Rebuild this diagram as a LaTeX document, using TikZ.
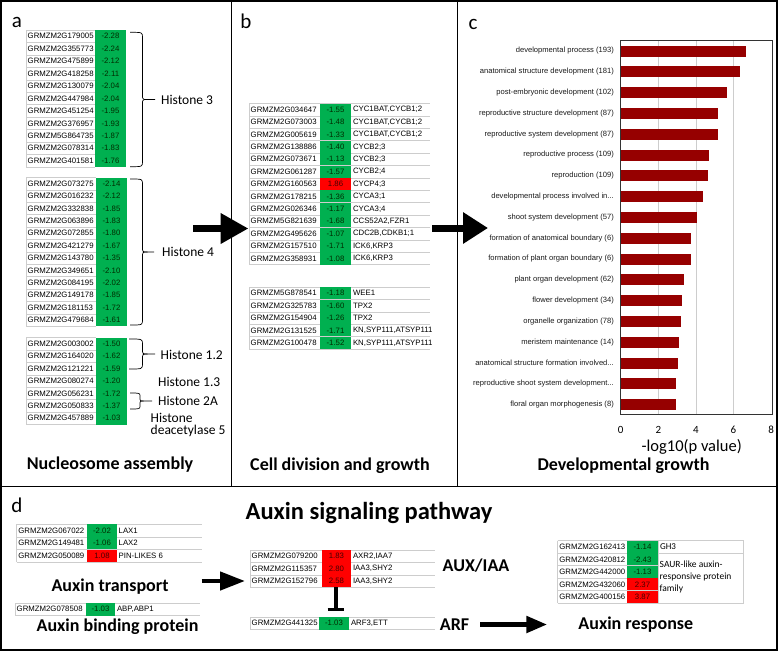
\documentclass[tikz,border=0pt]{standalone}
\usepackage{fontspec}
\setmainfont{Liberation Sans}
\newfontfamily\calfont{Carlito}
\usetikzlibrary{arrows.meta}
\definecolor{xgreen}{RGB}{0,176,80}
\definecolor{xred}{RGB}{255,0,0}
\definecolor{tgreen}{RGB}{0,45,0}
\definecolor{tred}{RGB}{70,0,0}
\definecolor{barred}{RGB}{150,0,0}
\definecolor{cellline}{RGB}{205,205,205}
\newcommand\elip{...}
\tikzset{
  small/.style={font=\fontsize{7.6}{9}\selectfont, inner sep=0pt},
  tbl/.style={font=\fontsize{7.8}{9}\selectfont, inner sep=0pt},
  gene/.style={tbl, anchor=west},
  val/.style={tbl, anchor=center},
  gridl/.style={draw=cellline, line width=0.6pt},
  ttl/.style={font=\calfont\bfseries\fontsize{18}{20}\selectfont, inner sep=0pt},
  hist/.style={font=\calfont\fontsize{13.5}{14}\selectfont, anchor=west, inner sep=0pt, text height=9pt, text depth=2.5pt},
  plab/.style={font=\calfont\fontsize{21}{24}\selectfont, inner sep=0pt},
  tick/.style={font=\calfont\fontsize{11}{12}\selectfont, inner sep=0pt},
}
% row of a table: #1 index, #2 gene, #3 value, #4 description, #5 fill, #6 text colour, #7 name prefix
\newcommand\rowcells[7]{%
  \pgfmathsetmacro\yy{\ytop+#1*\rh}%
  \pgfmathsetmacro\yc{\yy+0.5*\rh}%
  \pgfmathsetmacro\yb{\yy+\rh}%
  \draw[gridl] (\xa,\yy) -- (\xd,\yy) (\xa,\yb) -- (\xd,\yb) (\xa,\yy) -- (\xa,\yb);
  \fill[#5] (\xb,\yy) rectangle (\xc,\yb);
  \node[gene] (#7g#1) at (\xa+1.5,\yc) {#2};
  \node[val,text=#6] (#7v#1) at ({(\xb+\xc)/2},\yc) {#3};
  \node[gene] (#7d#1) at (\xc+1.8,\yc) {#4};
}
% brace: #1 hook x, #2 vertical x, #3 top, #4 bottom, #5 dash end x, #6 radius
\newcommand\hbrace[6]{%
  \pgfmathsetmacro\bmid{(#3+#4)/2}%
  \draw[line width=0.7pt] (#1,#3) .. controls (#2,#3) .. (#2,#3+#6) -- (#2,\bmid-#6) .. controls (#2,\bmid) .. (#2+#6,\bmid) -- (#5,\bmid);
  \draw[line width=0.7pt] (#2+#6,\bmid) .. controls (#2,\bmid) .. (#2,\bmid+#6) -- (#2,#4-#6) .. controls (#2,#4) .. (#1,#4);
}
\begin{document}
\begin{tikzpicture}[x=1pt,y=-1pt]
\useasboundingbox (0,0) rectangle (778,651);
% frame
\draw[line width=1.4pt] (1,1) rectangle (777,650);
\draw[line width=1pt] (1,486) -- (777,486);
\draw[line width=1pt] (231,1) -- (231,486);
\draw[line width=1pt] (457,1) -- (457,486);
% panel letters
\node[plab] (la) at (17,22) {a};
\node[plab] (lb) at (246,21) {b};
\node[plab] (lc) at (473,24) {c};
\node[plab] (ld) at (17,505) {d};

% ---------- panel a ----------
\def\xa{26}\def\xb{95}\def\xc{126}\def\xd{95}
\def\ytop{30}\def\rh{12.45}
\rowcells{0}{GRMZM2G179005}{-2.28}{}{xgreen}{tgreen}{h3}
\rowcells{1}{GRMZM2G355773}{-2.24}{}{xgreen}{tgreen}{h3}
\rowcells{2}{GRMZM2G475899}{-2.12}{}{xgreen}{tgreen}{h3}
\rowcells{3}{GRMZM2G418258}{-2.11}{}{xgreen}{tgreen}{h3}
\rowcells{4}{GRMZM2G130079}{-2.04}{}{xgreen}{tgreen}{h3}
\rowcells{5}{GRMZM2G447984}{-2.04}{}{xgreen}{tgreen}{h3}
\rowcells{6}{GRMZM2G451254}{-1.95}{}{xgreen}{tgreen}{h3}
\rowcells{7}{GRMZM2G376957}{-1.93}{}{xgreen}{tgreen}{h3}
\rowcells{8}{GRMZM5G864735}{-1.87}{}{xgreen}{tgreen}{h3}
\rowcells{9}{GRMZM2G078314}{-1.83}{}{xgreen}{tgreen}{h3}
\rowcells{10}{GRMZM2G401581}{-1.76}{}{xgreen}{tgreen}{h3}
\def\ytop{177.5}\def\rh{12.4}\def\xb{96}\def\xc{127}\def\xd{96}
\rowcells{0}{GRMZM2G073275}{-2.14}{}{xgreen}{tgreen}{h4}
\rowcells{1}{GRMZM2G016232}{-2.12}{}{xgreen}{tgreen}{h4}
\rowcells{2}{GRMZM2G332838}{-1.85}{}{xgreen}{tgreen}{h4}
\rowcells{3}{GRMZM2G063896}{-1.83}{}{xgreen}{tgreen}{h4}
\rowcells{4}{GRMZM2G072855}{-1.80}{}{xgreen}{tgreen}{h4}
\rowcells{5}{GRMZM2G421279}{-1.67}{}{xgreen}{tgreen}{h4}
\rowcells{6}{GRMZM2G143780}{-1.35}{}{xgreen}{tgreen}{h4}
\rowcells{7}{GRMZM2G349651}{-2.10}{}{xgreen}{tgreen}{h4}
\rowcells{8}{GRMZM2G084195}{-2.02}{}{xgreen}{tgreen}{h4}
\rowcells{9}{GRMZM2G149178}{-1.85}{}{xgreen}{tgreen}{h4}
\rowcells{10}{GRMZM2G181153}{-1.72}{}{xgreen}{tgreen}{h4}
\rowcells{11}{GRMZM2G479684}{-1.61}{}{xgreen}{tgreen}{h4}
\def\ytop{337.7}
\rowcells{0}{GRMZM2G003002}{-1.50}{}{xgreen}{tgreen}{h1}
\rowcells{1}{GRMZM2G164020}{-1.62}{}{xgreen}{tgreen}{h1}
\rowcells{2}{GRMZM2G121221}{-1.59}{}{xgreen}{tgreen}{h1}
\rowcells{3}{GRMZM2G080274}{-1.20}{}{xgreen}{tgreen}{h1}
\rowcells{4}{GRMZM2G056231}{-1.72}{}{xgreen}{tgreen}{h1}
\rowcells{5}{GRMZM2G050833}{-1.37}{}{xgreen}{tgreen}{h1}
\rowcells{6}{GRMZM2G457889}{-1.03}{}{xgreen}{tgreen}{h1}
% braces
\hbrace{130}{142.5}{32.3}{166.7}{155}{5}
\hbrace{130}{142.5}{179}{325}{154}{5}
\hbrace{129}{142.5}{339}{369}{155}{5}
\hbrace{130}{140}{393}{409}{152}{3.5}
\node[hist] (th3) at (161,101) {Histone 3};
\node[hist] (th4) at (162,253) {Histone 4};
\node[hist] (th12) at (160.5,356) {Histone 1.2};
\node[hist] (th13) at (158,383.5) {Histone 1.3};
\node[hist] (th2a) at (158,402.5) {Histone 2A};
\node[hist] (thd1) at (150.5,418.8) {Histone};
\node[hist] (thd2) at (150.5,431) {deacetylase 5};
\node[ttl] (ta) at (110,465) {Nucleosome assembly};

% ---------- panel b ----------
\def\xa{249}\def\xb{320}\def\xc{351}\def\xd{430}
\def\ytop{103.5}\def\rh{12.4}
\rowcells{0}{GRMZM2G034647}{-1.55}{CYC1BAT,CYCB1;2}{xgreen}{tgreen}{b1}
\rowcells{1}{GRMZM2G073003}{-1.48}{CYC1BAT,CYCB1;2}{xgreen}{tgreen}{b1}
\rowcells{2}{GRMZM2G005619}{-1.33}{CYC1BAT,CYCB1;2}{xgreen}{tgreen}{b1}
\rowcells{3}{GRMZM2G138886}{-1.40}{CYCB2;3}{xgreen}{tgreen}{b1}
\rowcells{4}{GRMZM2G073671}{-1.13}{CYCB2;3}{xgreen}{tgreen}{b1}
\rowcells{5}{GRMZM2G061287}{-1.57}{CYCB2;4}{xgreen}{tgreen}{b1}
\rowcells{6}{GRMZM2G160563}{1.86}{CYCP4;3}{xred}{tred}{b1}
\rowcells{7}{GRMZM2G178215}{-1.36}{CYCA3;1}{xgreen}{tgreen}{b1}
\rowcells{8}{GRMZM2G026346}{-1.17}{CYCA3;4}{xgreen}{tgreen}{b1}
\rowcells{9}{GRMZM5G821639}{-1.68}{CCS52A2,FZR1}{xgreen}{tgreen}{b1}
\rowcells{10}{GRMZM2G495626}{-1.07}{CDC2B,CDKB1;1}{xgreen}{tgreen}{b1}
\rowcells{11}{GRMZM2G157510}{-1.71}{ICK6,KRP3}{xgreen}{tgreen}{b1}
\rowcells{12}{GRMZM2G358931}{-1.08}{ICK6,KRP3}{xgreen}{tgreen}{b1}
\def\ytop{287.1}
\rowcells{0}{GRMZM5G878541}{-1.18}{WEE1}{xgreen}{tgreen}{b2}
\rowcells{1}{GRMZM2G325783}{-1.60}{TPX2}{xgreen}{tgreen}{b2}
\rowcells{2}{GRMZM2G154904}{-1.26}{TPX2}{xgreen}{tgreen}{b2}
\rowcells{3}{GRMZM2G131525}{-1.71}{KN,SYP111,ATSYP111}{xgreen}{tgreen}{b2}
\rowcells{4}{GRMZM2G100478}{-1.52}{KN,SYP111,ATSYP111}{xgreen}{tgreen}{b2}
\node[ttl] (tb) at (340,466) {Cell division and growth};

% arrows between panels
\coordinate (abS) at (193,228.5);
\coordinate (abT) at (248.5,228.5);
\draw[line width=7pt, -{Triangle[length=28pt,width=29pt]}] (abS) -- (abT);
\coordinate (bcS) at (432,228);
\coordinate (bcT) at (488,228);
\draw[line width=7pt, -{Triangle[length=25pt,width=30pt]}] (bcS) -- (bcT);

% ---------- panel c ----------
\def\xz{620.7}\def\ux{18.8}
\foreach \k in {2,4,6}{
  \draw[draw=cellline, line width=0.6pt] ({\xz+\k*\ux},40.7) -- ({\xz+\k*\ux},414.3);
}
\foreach \lab/\v [count=\i from 0] in {
  developmental process (193)/6.66,
  anatomical structure development (181)/6.36,
  post-embryonic development (102)/5.67,
  reproductive structure development (87)/5.18,
  reproductive system development (87)/5.18,
  reproductive process (109)/4.70,
  reproduction (109)/4.66,
  developmental process involved in\elip/4.39,
  shoot system development (57)/4.06,
  formation of anatomical boundary (6)/3.72,
  formation of plant organ boundary (6)/3.72,
  plant organ development (62)/3.35,
  flower development (34)/3.26,
  organelle organization (78)/3.19,
  meristem maintenance (14)/3.10,
  anatomical structure formation involved\elip/3.03,
  reproductive shoot system development\elip/2.96,
  floral organ morphogenesis (8)/2.94}{
  \pgfmathsetmacro\yc{51+\i*20.8}
  \fill[barred] (\xz,\yc-5.5) rectangle ({\xz+\v*\ux},\yc+5.5);
  \node[small, anchor=east, text=black!90] (cl\i) at (614,\yc) {\lab};
}
\draw[line width=0.7pt, draw=black!80] (\xz,40.7) rectangle (772.3,414.3);
\foreach \k in {0,2,4,6,8}{
  \node[tick] (tk\k) at ({\xz+\k*\ux},430) {\k};
}
\node[font=\calfont\fontsize{16.5}{18}\selectfont, inner sep=0pt] (xlab) at (691.7,446.5) {-log10(p value)};
\node[ttl] (tc) at (623.5,466) {Developmental growth};

% ---------- panel d ----------
\node[ttl, font=\calfont\bfseries\fontsize{24.5}{26}\selectfont] (td) at (369,513) {Auxin signaling pathway};
% auxin transport
\def\xa{16.7}\def\xb{87.3}\def\xc{116.7}\def\xd{201.7}
\def\ytop{524.3}\def\rh{12.6}
\rowcells{0}{GRMZM2G067022}{-2.02}{LAX1}{xgreen}{tgreen}{tr}
\rowcells{1}{GRMZM2G149481}{-1.06}{LAX2}{xgreen}{tgreen}{tr}
\rowcells{2}{GRMZM2G050089}{1.08}{PIN-LIKES 6}{xred}{tred}{tr}
\node[ttl] (ttr) at (110,586.5) {Auxin transport};
% auxin binding protein
\def\xa{15}\def\xb{86}\def\xc{115}\def\xd{200}
\def\ytop{603}\def\rh{12.6}
\rowcells{0}{GRMZM2G078508}{-1.03}{ABP,ABP1}{xgreen}{tgreen}{bp}
\node[ttl] (tbp) at (117.5,626.5) {Auxin binding protein};
% AUX/IAA
\def\xa{250}\def\xb{321.7}\def\xc{351}\def\xd{435}
\def\ytop{550}\def\rh{12.43}
\rowcells{0}{GRMZM2G079200}{1.83}{AXR2,IAA7}{xred}{tred}{ai}
\rowcells{1}{GRMZM2G115357}{2.80}{IAA3,SHY2}{xred}{tred}{ai}
\rowcells{2}{GRMZM2G152796}{2.58}{IAA3,SHY2}{xred}{tred}{ai}
\node[ttl] (tai) at (476,565.3) {AUX/IAA};
% ARF
\def\xa{250}\def\xb{319}\def\xc{349}\def\xd{435}
\def\ytop{617}\def\rh{12.5}
\rowcells{0}{GRMZM2G441325}{-1.03}{ARF3,ETT}{xgreen}{tgreen}{arf}
\node[ttl] (tarf) at (454.5,624.3) {ARF};
% inhibition
\coordinate (inhS) at (336,587.3);
\coordinate (inhT) at (336,609.5);
\draw[line width=3.5pt] (inhS) -- (inhT);
\draw[line width=3.5pt] ([xshift=-8.3pt]inhT) -- ([xshift=8.3pt]inhT);
% auxin response
\def\xa{557.7}\def\xb{627}\def\xc{658}\def\xd{658}
\def\ytop{540.7}\def\rh{12.5}
\rowcells{0}{GRMZM2G162413}{-1.14}{}{xgreen}{tgreen}{ar}
\rowcells{1}{GRMZM2G420812}{-2.43}{}{xgreen}{tgreen}{ar}
\rowcells{2}{GRMZM2G442000}{-1.13}{}{xgreen}{tgreen}{ar}
\rowcells{3}{GRMZM2G432060}{2.37}{}{xred}{tred}{ar}
\rowcells{4}{GRMZM2G400156}{3.87}{}{xred}{tred}{ar}
\draw[gridl] (658,540.7) rectangle (743.3,553.2);
\draw[gridl] (658,553.2) rectangle (743.3,603.2);
\node[gene, font=\calfont\fontsize{9}{9}\selectfont] (gh3) at (660,547) {GH3};
\node[anchor=north west, align=left, inner sep=0pt, font=\calfont\fontsize{9.5}{11.8}\selectfont] (saur) at (659.5,561) {SAUR-like auxin-\\responsive protein\\family};
\node[ttl] (tar) at (635.8,625) {Auxin response};
% arrows in d
\coordinate (d1S) at (201.7,581);
\coordinate (d1T) at (245,581);
\draw[line width=4.5pt, -{Triangle[length=25pt,width=18pt]}] (d1S) -- (d1T);
\coordinate (d2S) at (480,624.5);
\coordinate (d2T) at (547.3,624.5);
\draw[line width=5pt, -{Triangle[length=21pt,width=16pt]}] (d2S) -- (d2T);
\end{tikzpicture}
\end{document}
